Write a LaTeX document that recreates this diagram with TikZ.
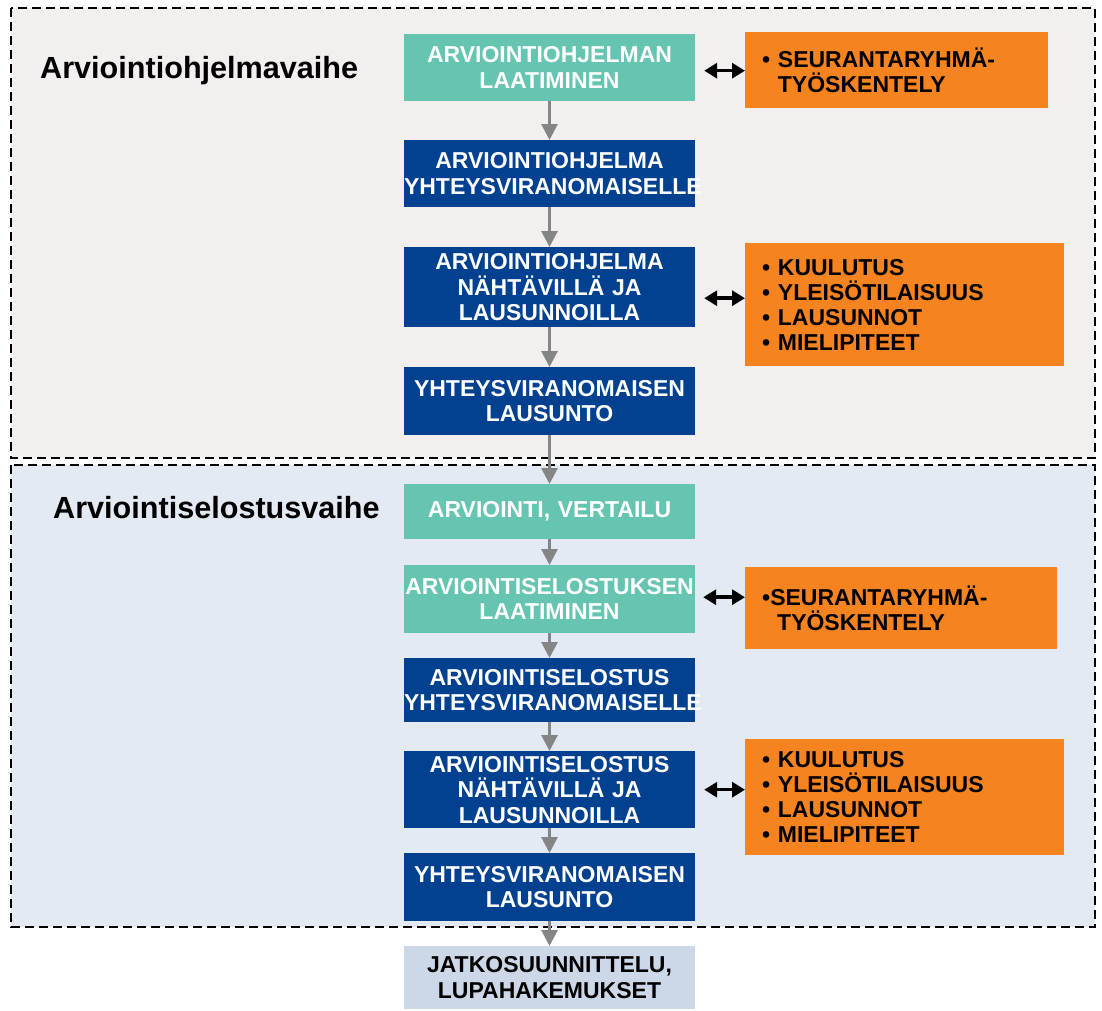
\documentclass[tikz,border=0pt]{standalone}
\usepackage{fontspec}
\setmainfont{Liberation Sans}
\usetikzlibrary{arrows.meta}

\definecolor{phaseone}{RGB}{244,239,239}
\definecolor{phasetwo}{RGB}{228,234,243}
\definecolor{tealbox}{RGB}{102,197,176}
\definecolor{bluebox}{RGB}{2,65,143}
\definecolor{orangebox}{RGB}{244,131,32}
\definecolor{lastbox}{RGB}{204,216,232}
\definecolor{flowgrey}{RGB}{133,133,133}

\tikzset{
  stepbox/.style={anchor=north, minimum height=#1, text width=291pt, inner xsep=0pt, inner ysep=0pt,
    align=center, text=white, font=\bfseries\fontsize{23}{25.5}\selectfont},
  notebox/.style={anchor=north west, fill=orangebox, minimum height=#1, inner xsep=17pt, inner ysep=0pt,
    align=left, text=black, font=\bfseries\fontsize{23}{25}\selectfont},
  phaselabel/.style={anchor=base west, inner sep=0pt, font=\bfseries\fontsize{30.6}{34}\selectfont},
  phaseframe/.style={line width=2.2pt, dash pattern=on 9pt off 5pt},
  flowarrow/.style={flowgrey, line width=3pt, -{Triangle[width=16pt,length=16pt]}},
  linkarrow/.style={black, line width=3.5pt, {Triangle[width=15pt,length=13pt]}-{Triangle[width=15pt,length=13pt]}}
}

\begin{document}
\begin{tikzpicture}[x=1pt,y=-1pt]
  \useasboundingbox (0,0) rectangle (1102,1010);

  % Draw the two phase frames
  \draw[phaseframe, fill=phaseone] (11,8) rectangle (1095,458);
  \draw[phaseframe, fill=phasetwo] (11,465) rectangle (1095,927);
  \node[phaselabel] (ph1) at (40,78) {Arviointiohjelmavaihe};
  \node[phaselabel] (ph2) at (53,518) {Arviointiselostusvaihe};

  % Main column of steps
  \node[stepbox=67, fill=tealbox] (b1) at (549.5,34) {ARVIOINTIOHJELMAN\\LAATIMINEN};
  \node[stepbox=67, fill=bluebox] (b2) at (549.5,140) {ARVIOINTIOHJELMA\\YHTEYSVIRANOMAISELLE};
  \node[stepbox=80, fill=bluebox] (b3) at (549.5,247) {ARVIOINTIOHJELMA\\NÄHTÄVILLÄ JA\\LAUSUNNOILLA};
  \node[stepbox=68, fill=bluebox] (b4) at (549.5,367) {YHTEYSVIRANOMAISEN\\LAUSUNTO};
  \node[stepbox=55, fill=tealbox] (b5) at (549.5,484) {ARVIOINTI, VERTAILU};
  \node[stepbox=68, fill=tealbox] (b6) at (549.5,565) {ARVIOINTISELOSTUKSEN\\LAATIMINEN};
  \node[stepbox=64, fill=bluebox] (b7) at (549.5,658) {ARVIOINTISELOSTUS\\YHTEYSVIRANOMAISELLE};
  \node[stepbox=77, fill=bluebox] (b8) at (549.5,751) {ARVIOINTISELOSTUS\\NÄHTÄVILLÄ JA\\LAUSUNNOILLA};
  \node[stepbox=68, fill=bluebox] (b9) at (549.5,853) {YHTEYSVIRANOMAISEN\\LAUSUNTO};
  \node[stepbox=63, fill=lastbox, text=black] (b10) at (549.5,946) {JATKOSUUNNITTELU,\\LUPAHAKEMUKSET};

  % Side notes
  \node[notebox=76, text width=269pt] (n1) at (745,32)
    {\textbullet\ SEURANTARYHMÄ-\\\phantom{\textbullet\ }TYÖSKENTELY};
  \node[notebox=123, text width=285pt] (n2) at (745,243)
    {\textbullet\ KUULUTUS\\\textbullet\ YLEISÖTILAISUUS\\\textbullet\ LAUSUNNOT\\\textbullet\ MIELIPITEET};
  \node[notebox=82, text width=278pt] (n3) at (745,567)
    {\textbullet SEURANTARYHMÄ-\\\hspace*{15pt}TYÖSKENTELY};
  \node[notebox=116, text width=285pt] (n4) at (745,739)
    {\textbullet\ KUULUTUS\\\textbullet\ YLEISÖTILAISUUS\\\textbullet\ LAUSUNNOT\\\textbullet\ MIELIPITEET};

  % Flow arrows
  \foreach \a/\b in {b1/b2,b2/b3,b3/b4,b4/b5,b5/b6,b6/b7,b7/b8,b8/b9,b9/b10}
    \draw[flowarrow] (\a) -- (\b);

  % Links to the side notes
  \draw[linkarrow] ([shift={(9,3)}]b1.east) -- ([shift={(0,3)}]b1.east -| n1.west);
  \draw[linkarrow] ([shift={(9,11)}]b3.east) -- ([shift={(0,11)}]b3.east -| n2.west);
  \draw[linkarrow] ([shift={(8,-2)}]b6.east) -- ([shift={(0,-2)}]b6.east -| n3.west);
  \draw[linkarrow] ([shift={(9,0)}]b8.east) -- (b8.east -| n4.west);
\end{tikzpicture}
\end{document}
